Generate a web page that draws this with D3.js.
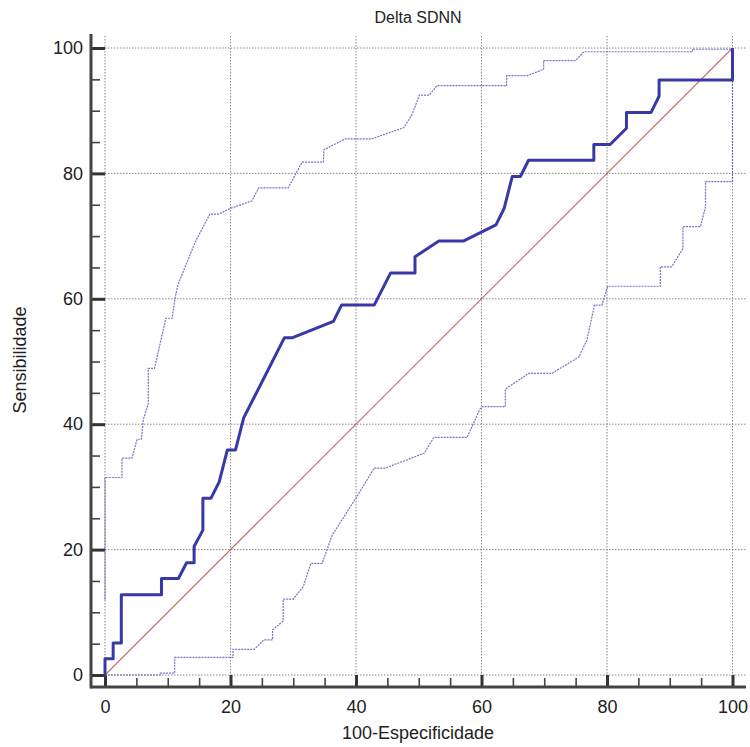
<!DOCTYPE html>
<html>
<head>
<meta charset="utf-8">
<script src="https://cdn.jsdelivr.net/npm/d3@7"></script>
<style>
  body { margin: 0; background: #fff; }
  text { font-family: "Liberation Sans", Arial, sans-serif; fill: #222; }
</style>
</head>
<body>
<svg width="750" height="747"></svg>
<script>
// ROC curve, points as [100-specificity, sensitivity]
var roc = [[0,0],[0,2.6],[1.3,2.6],[1.3,5.1],[2.6,5.1],[2.6,12.8],[9.0,12.8],[9.0,15.4],
  [11.7,15.4],[13.0,17.9],[14.2,17.9],[14.2,20.5],[15.6,23.1],[15.6,28.2],[16.9,28.2],
  [18.2,30.8],[19.5,35.9],[20.8,35.9],[22.1,41.0],[28.6,53.8],[29.9,53.8],[36.4,56.4],
  [37.7,59.0],[42.9,59.0],[45.5,64.1],[49.4,64.1],[49.4,66.7],[53.2,69.2],[57.1,69.2],
  [62.3,71.8],[63.6,74.4],[64.9,79.5],[66.2,79.5],[67.5,82.1],[77.9,82.1],[77.9,84.6],
  [80.5,84.6],[83.1,87.2],[83.1,89.7],[87.0,89.7],[88.3,92.3],[88.3,94.9],[100,94.9],[100,100]];

// confidence bounds
var upper = [[0,12],[0,31.5],[2.7,31.5],[2.7,34.6],[4.3,34.6],[5.1,37.6],[5.8,37.6],[6.1,40.7],
  [6.9,43.3],[6.9,48.9],[7.9,48.9],[8.5,51.6],[9.7,56.9],[10.7,56.9],[11.2,60.3],[11.6,62.2],
  [14.4,69.1],[16.7,73.5],[18.1,73.5],[19.9,74.4],[23.4,75.6],[24.5,77.7],[29.2,77.7],
  [31.4,81.8],[34.8,81.8],[34.9,83.8],[38.3,85.5],[42.5,85.5],[47.6,87.3],[48.9,89.3],
  [50.1,92.5],[51.7,92.5],[52.9,94.0],[64.0,94.0],[64.0,95.6],[67.3,95.6],[69.9,96.6],
  [69.9,98.0],[75.0,98.0],[76.3,99.4],[93.6,99.4],[93.6,99.8],[100,99.8],[100,100]];

var lower = [[0,0],[8.8,0],[8.8,0.3],[11.1,0.3],[11.1,2.8],[20.4,2.8],[20.4,4.1],[23.8,4.1],
  [25.3,5.6],[26.7,5.6],[26.7,7.2],[28.4,8.6],[28.4,12.1],[30.0,12.1],[31.6,14.1],[32.8,17.8],
  [34.6,17.8],[36.2,22.3],[40.1,28.4],[42.9,33.0],[44.7,33.0],[50.9,35.4],[52.4,37.9],
  [57.7,37.9],[59.8,42.5],[60.2,42.8],[63.8,42.8],[63.8,45.6],[67.5,48.1],[71.2,48.1],
  [75.5,50.7],[76.8,53.4],[78.0,59.0],[79.2,59.0],[80.1,62.0],[88.5,62.0],[88.5,65.1],
  [90.3,65.1],[92.1,68.0],[92.1,71.5],[94.9,71.5],[95.7,74.7],[95.7,78.7],[100,78.7],[100,100]];

var majorTicks = [0, 20, 40, 60, 80, 100];
var minorTicks = d3.range(0, 101, 5);

var svg = d3.select("svg");
var x = d3.scaleLinear().domain([0, 100]).range([105, 732.5]),
    y = d3.scaleLinear().domain([0, 100]).range([675, 48]);

var axisX = 91, axisY = 687, gridTop = 36, gridRight = 746;

// grid
svg.append("g").selectAll("line").data(majorTicks).enter().append("line")
    .attr("x1", function(d) { return x(d); }).attr("x2", function(d) { return x(d); })
    .attr("y1", gridTop).attr("y2", y(0))
    .attr("stroke", "#888").attr("stroke-dasharray", "1.5,1.5");
svg.append("g").selectAll("line").data(majorTicks).enter().append("line")
    .attr("y1", function(d) { return y(d); }).attr("y2", function(d) { return y(d); })
    .attr("x1", x(0)).attr("x2", gridRight)
    .attr("stroke", "#888").attr("stroke-dasharray", "1.5,1.5");

// minor / major ticks pointing inward
svg.append("g").attr("transform", "translate(" + axisX + ",0)")
    .call(d3.axisRight(y).tickValues(minorTicks).tickSize(9).tickFormat(""))
    .call(function(g) { g.select(".domain").remove(); g.selectAll("line").attr("stroke", "#444").attr("stroke-width", 1.6); });
svg.append("g").attr("transform", "translate(" + axisX + ",0)")
    .call(d3.axisRight(y).tickValues(majorTicks).tickSize(x(0) - axisX).tickFormat(""))
    .call(function(g) { g.select(".domain").remove(); g.selectAll("line").attr("stroke", "#333").attr("stroke-width", 3); });
svg.append("g").attr("transform", "translate(0," + axisY + ")")
    .call(d3.axisTop(x).tickValues(minorTicks).tickSize(9).tickFormat(""))
    .call(function(g) { g.select(".domain").remove(); g.selectAll("line").attr("stroke", "#444").attr("stroke-width", 1.6); });
svg.append("g").attr("transform", "translate(0," + axisY + ")")
    .call(d3.axisTop(x).tickValues(majorTicks).tickSize(axisY - y(0)).tickFormat(""))
    .call(function(g) { g.select(".domain").remove(); g.selectAll("line").attr("stroke", "#333").attr("stroke-width", 3); });

// labels
svg.append("g").attr("transform", "translate(" + axisX + ",0)")
    .call(d3.axisLeft(y).tickValues(majorTicks).tickSize(0).tickPadding(8))
    .call(function(g) { g.select(".domain").remove(); g.selectAll("text").style("font-size", "18px"); });
svg.append("g").attr("transform", "translate(0," + axisY + ")")
    .call(d3.axisBottom(x).tickValues(majorTicks).tickSize(0).tickPadding(13))
    .call(function(g) { g.select(".domain").remove(); g.selectAll("text").style("font-size", "18px"); });

// axis lines
svg.append("line").attr("x1", axisX).attr("x2", axisX).attr("y1", 34).attr("y2", axisY + 1.5)
    .attr("stroke", "#444").attr("stroke-width", 3);
svg.append("line").attr("x1", axisX).attr("x2", gridRight).attr("y1", axisY).attr("y2", axisY)
    .attr("stroke", "#444").attr("stroke-width", 3);

var line = d3.line()
    .x(function(d) { return x(d[0]); })
    .y(function(d) { return y(d[1]); });

// diagonal
svg.append("path").datum([[0, 0], [100, 100]]).attr("d", line)
    .attr("fill", "none").attr("stroke", "#c0504a").attr("stroke-width", 1.1)
    .attr("stroke-opacity", 0.85);

// confidence bands
[upper, lower].forEach(function(band) {
  svg.append("path").datum(band).attr("d", line)
      .attr("fill", "none").attr("stroke", "#5050bc").attr("stroke-opacity", 0.8)
      .attr("stroke-width", 1.2).attr("stroke-dasharray", "2,1");
});

// ROC
svg.append("path").datum(roc).attr("d", line)
    .attr("fill", "none").attr("stroke", "#3838a6").attr("stroke-width", 3)
    .attr("stroke-linejoin", "round");

// titles
svg.append("text").attr("x", 418).attr("y", 23).attr("text-anchor", "middle")
    .style("font-size", "16px").text("Delta SDNN");
svg.append("text").attr("x", 418).attr("y", 739).attr("text-anchor", "middle")
    .style("font-size", "18px").text("100-Especificidade");
svg.append("text").attr("transform", "translate(26,360) rotate(-90)").attr("text-anchor", "middle")
    .style("font-size", "18px").text("Sensibilidade");
</script>
</body>
</html>
